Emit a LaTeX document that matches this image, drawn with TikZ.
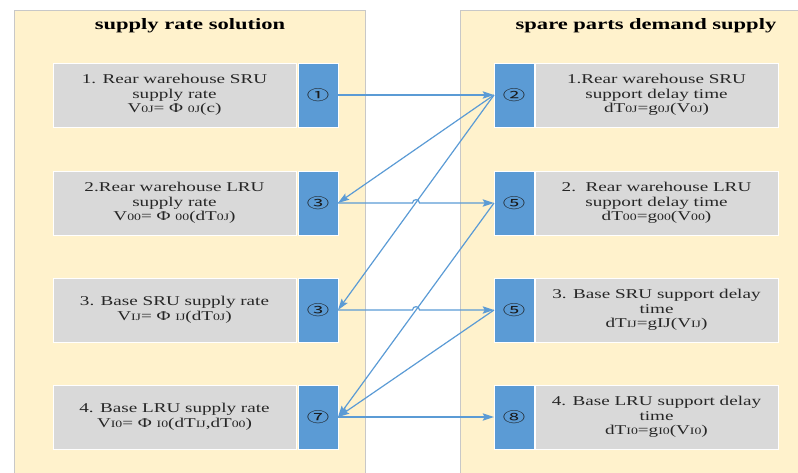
\documentclass[tikz,border=0pt]{standalone}
\usepackage{fontspec}
\setmainfont[FakeStretch=1.42]{Liberation Serif}
\newfontfamily\circfont[FakeStretch=1.6]{Noto Sans CJK SC}
\usetikzlibrary{arrows.meta,calc}
\definecolor{panelfill}{HTML}{FFF2CC}
\definecolor{panelline}{HTML}{C8C8C8}
\definecolor{boxgray}{HTML}{D9D9D9}
\definecolor{boxblue}{HTML}{5B9BD5}
% small index letters set on the baseline
\newcommand\lo[1]{{\fontsize{7.3pt}{8pt}\selectfont #1}}
\begin{document}
\begin{tikzpicture}[x=0.75pt,y=-0.75pt,
  panel/.style={fill=panelfill, draw=panelline, line width=0.75pt},
  textbox/.style={rectangle, fill=boxgray, draw=white, line width=0.6pt,
    minimum width=182.25pt, minimum height=48pt, inner sep=0pt, outer sep=0pt,
    align=center, text=black!85, font=\fontsize{10.1pt}{11pt}\selectfont},
  numbox/.style={rectangle, fill=boxblue, draw=white, line width=0.6pt,
    minimum width=30pt, minimum height=48pt, inner sep=0pt, outer sep=0pt,
    text=black!90, font=\circfont\fontsize{10.5pt}{10.5pt}\selectfont},
  title/.style={text=black, font=\bfseries\fontsize{11.9pt}{13pt}\selectfont},
  link/.style={draw=boxblue, line width=0.9pt,
    -{Stealth[length=8.5pt,width=5.5pt,inset=1.5pt]}}
]
\useasboundingbox (0,0) rectangle (798,472);
\clip (0,0) rectangle (798,472);

% the two panels
\draw[panel] (14,10) rectangle (365,490);
\draw[panel] (460,10) rectangle (830,490);
\node[title] (t1) at (190,26) {supply rate solution};
\node[title] (t2) at (646,26) {spare parts demand supply};

% supply rates
\node[textbox] (a1) at (174.5,95) {1. Rear warehouse SRU\\supply rate\\V\lo{0J}= Φ \lo{0J}(c)};
\node[numbox]  (p1) at (318,95) {①};
\node[textbox] (a2) at (174.5,203) {2.Rear warehouse LRU\\supply rate\\V\lo{00}= Φ \lo{00}(dT\lo{0J})};
\node[numbox]  (p2) at (318,203) {③};
\node[textbox] (a3) at (174.5,310) {3. Base SRU supply rate\\V\lo{IJ}= Φ \lo{IJ}(dT\lo{0J})};
\node[numbox]  (p3) at (318,310) {③};
\node[textbox] (a4) at (174.5,417) {4. Base LRU supply rate\\V\lo{I0}= Φ \lo{I0}(dT\lo{IJ},dT\lo{00})};
\node[numbox]  (p4) at (318,417) {⑦};

% support delay times
\node[numbox]  (q1) at (514,95) {②};
\node[textbox] (b1) at (656.5,95) {1.Rear warehouse SRU\\support delay time\\dT\lo{0J}=g\lo{0J}(V\lo{0J})};
\node[numbox]  (q2) at (514,203) {⑤};
\node[textbox] (b2) at (656.5,203) {2.\ \ Rear warehouse LRU\\support delay time\\dT\lo{00}=g\lo{00}(V\lo{00})};
\node[numbox]  (q3) at (514,310) {⑤};
\node[textbox] (b3) at (656.5,310) {3. Base SRU support delay\\time\\dT\lo{IJ}=gIJ(V\lo{IJ})};
\node[numbox]  (q4) at (514,417) {⑧};
\node[textbox] (b4) at (656.5,417) {4. Base LRU support delay\\time\\dT\lo{I0}=g\lo{I0}(V\lo{I0})};

% hop points where the horizontal links pass over the diagonals
\coordinate (h2a) at ($(p2.east)!0.5!(q2.west)+(-3.5,0)$);
\coordinate (h2b) at ($(p2.east)!0.5!(q2.west)+(3.5,0)$);
\coordinate (h3a) at ($(p3.east)!0.5!(q3.west)+(-3.5,0)$);
\coordinate (h3b) at ($(p3.east)!0.5!(q3.west)+(3.5,0)$);

% links
\draw[link] (p1.east) -- (q1.west);
\draw[link] (q1.west) -- (p2.east);
\draw[link] (q1.west) -- (p3.east);
\draw[link] (q2.west) -- (p4.east);
\draw[link] (q3.west) -- (p4.east);
\draw[link] (p4.east) -- (q4.west);
\draw[link] (p2.east) -- (h2a) .. controls +(0,-4.5) and +(0,-4.5) .. (h2b) -- (q2.west);
\draw[link] (p3.east) -- (h3a) .. controls +(0,-4.5) and +(0,-4.5) .. (h3b) -- (q3.west);
\end{tikzpicture}
\end{document}
